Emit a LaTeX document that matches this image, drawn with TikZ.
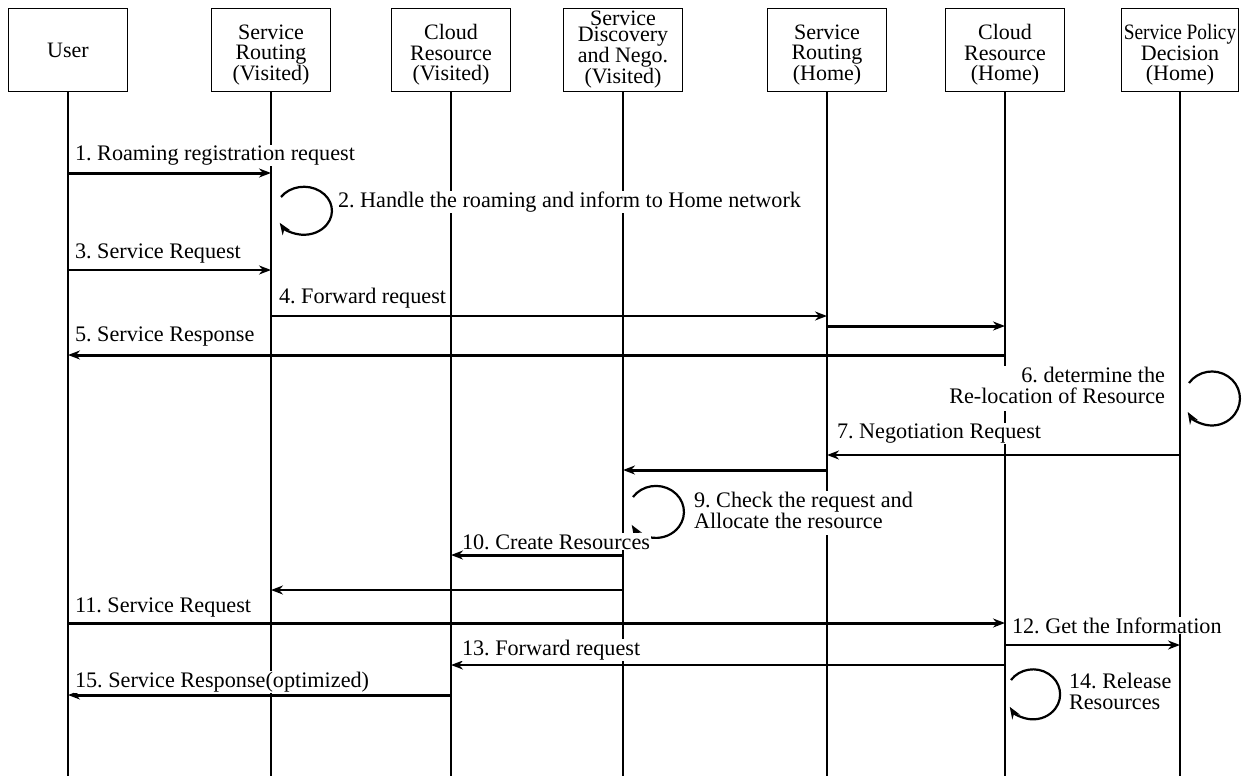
\documentclass[tikz,border=0pt]{standalone}
\usepackage{fontspec}
\setmainfont{Liberation Serif}
\usepackage{graphicx}
\usetikzlibrary{arrows.meta,calc}
\frenchspacing
\begin{document}
\begin{tikzpicture}[x=1pt,y=-1pt,
  actor/.style={draw, line width=1.6pt, minimum width=119pt, minimum height=83pt,
    align=center, inner sep=0pt, font=\fontsize{22}{20.5}\selectfont},
  atext/.style={align=center, inner sep=0pt, yshift=-5pt, font=\fontsize{22}{20.5}\selectfont},
  life/.style={line width=2.6pt},
  msgthin/.style={line width=1.8pt, -{Stealth[length=12pt,width=9pt]}},
  msgmid/.style={line width=2.3pt, -{Stealth[length=12pt,width=9pt]}},
  msgthick/.style={line width=3pt, -{Stealth[length=12pt,width=9pt]}},
  selfloop/.style={line width=2.2pt, -{Stealth[length=12pt,width=9pt]}},
  lbl/.style={font=\fontsize{22.2}{22}\selectfont, fill=white, inner sep=0.8pt, anchor=base west}
]
\useasboundingbox (0,0) rectangle (1247,776);
% actors
\node[actor] (U)  at (68,50)   {User};
\node[actor, label={[atext]center:{Service\\Routing\\(Visited)}}] (RV) at (271,50) {};
\node[actor, label={[atext]center:{Cloud\\Resource\\(Visited)}}] (CV) at (451,50) {};
\node[actor, font=\fontsize{22}{16}\selectfont] (SD) at (623,50) {Service\\Discovery\\and Nego.\\(Visited)};
\node[actor, label={[atext]center:{Service\\Routing\\(Home)}}] (RH) at (827,50) {};
\node[actor, label={[atext]center:{Cloud\\Resource\\(Home)}}] (CH) at (1005,50) {};
\node[actor, minimum width=117pt, label={[atext]center:{\scalebox{0.88}[1]{Service Policy}\\Decision\\(Home)}}] (PH) at (1180,50) {};
% lifelines
\coordinate (bot) at (0,776);
\foreach \n in {U,RV,CV,SD,RH,CH,PH} \draw[life] (\n.south) -- (\n.south |- bot);
% message rows
\coordinate (y1) at (0,173);
\coordinate (y2) at (0,197);
\coordinate (y3) at (0,270);
\coordinate (y4) at (0,316);
\coordinate (y4b) at (0,326);
\coordinate (y5) at (0,355);
\coordinate (y6) at (0,383);
\coordinate (y7) at (0,455);
\coordinate (y8) at (0,470);
\coordinate (y9) at (0,497);
\coordinate (y10) at (0,555);
\coordinate (y10b) at (0,590);
\coordinate (y11) at (0,623);
\coordinate (y12) at (0,645);
\coordinate (y13) at (0,665);
\coordinate (y14) at (0,680);
\coordinate (y15) at (0,695);
% messages
\draw[msgthick] (U |- y1) -- (RV |- y1);
\draw[selfloop] ($(RV |- y2)+(10,0)$) arc[start angle=145, end angle=-150, x radius=28pt, y radius=24pt];
\draw[msgmid] (U |- y3) -- (RV |- y3);
\draw[msgthin] (RV |- y4) -- (RH |- y4);
\draw[msgthick] (RH |- y4b) -- (CH |- y4b);
\draw[msgthick] (CH |- y5) -- (U |- y5);
\draw[selfloop] ($(PH |- y6)+(9,0)$) arc[start angle=145, end angle=-150, x radius=28pt, y radius=27pt];
\draw[msgmid] (PH |- y7) -- (RH |- y7);
\draw[msgthick] (RH |- y8) -- (SD |- y8);
\draw[selfloop] ($(SD |- y9)+(10,0)$) arc[start angle=145, end angle=-150, x radius=28pt, y radius=26pt];
\draw[msgthick] (SD |- y10) -- (CV |- y10);
\draw[msgmid] (SD |- y10b) -- (RV |- y10b);
\draw[msgthick] (U |- y11) -- (CH |- y11);
\draw[msgthin] (CH |- y12) -- (PH |- y12);
\draw[msgthin] (CH |- y13) -- (CV |- y13);
\draw[selfloop] ($(CH |- y14)+(6,0)$) arc[start angle=145, end angle=-150, x radius=27pt, y radius=25pt];
\draw[msgthick] (CV |- y15) -- (U |- y15);
% labels
\node[lbl] (l1) at (74,160) {1. Roaming registration request};
\node[lbl] (l2) at (337,207) {2. Handle the roaming and inform to Home network};
\node[lbl] (l3) at (74,258) {3. Service Request};
\node[lbl] (l4) at (278,303) {4. Forward request};
\node[lbl] (l5) at (74,341) {5. Service Response};
\node[lbl, anchor=base east] (l6) at (1166,382) {\begin{tabular}[t]{@{}r@{}}6. determine the\\[-1pt]Re-location of Resource\end{tabular}};
\node[lbl] (l7) at (836,438) {7. Negotiation Request};
\node[lbl] (l9) at (693,507) {\begin{tabular}[t]{@{}l@{}}9. Check the request and\\[-1pt]Allocate the resource\end{tabular}};
\node[lbl] (l10) at (461,549) {10. Create Resources};
\node[lbl] (l11) at (74,612) {11. Service Request};
\node[lbl] (l12) at (1011,633) {12. Get the Information};
\node[lbl] (l13) at (461,655) {13. Forward request};
\node[lbl] (l14) at (1068,688) {\begin{tabular}[t]{@{}l@{}}14. Release\\[-1pt]Resources\end{tabular}};
\node[lbl] (l15) at (74,687) {15. Service Response(optimized)};
\end{tikzpicture}
\end{document}
